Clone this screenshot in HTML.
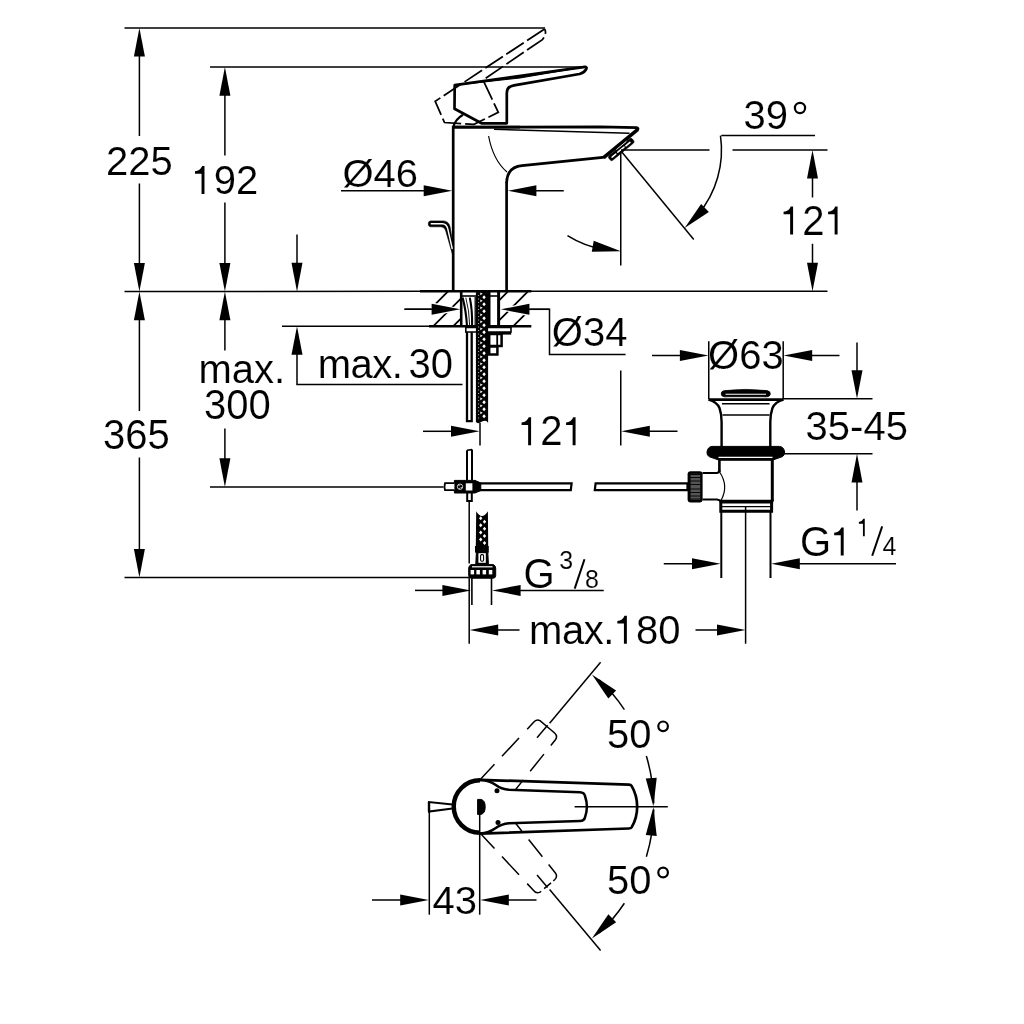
<!DOCTYPE html>
<html><head><meta charset="utf-8"><title>Dimension drawing</title>
<style>html,body{margin:0;padding:0;background:#fff}svg{display:block;font-family:"Liberation Sans",sans-serif}</style>
</head><body>
<svg width="1024" height="1024" viewBox="0 0 1024 1024" stroke="#000" fill="#000" stroke-linecap="butt">
<rect width="1024" height="1024" fill="#fff" stroke="none"/>
<g stroke="#000">
<line x1="124.5" y1="28" x2="545" y2="28" stroke-width="1.5" />
<line x1="210" y1="67.05" x2="586" y2="67.05" stroke-width="1.5" />
<path d="M124.5,291.6 L430,291.3 L827.5,291.25" stroke-width="1.5" fill="none" />
<line x1="210" y1="486.9" x2="443.5" y2="486.9" stroke-width="1.5" />
<line x1="124.5" y1="577.5" x2="469" y2="577.5" stroke-width="1.5" />
<line x1="139.4" y1="50" x2="139.4" y2="136" stroke-width="1.5" />
<line x1="139.4" y1="183.5" x2="139.4" y2="270" stroke-width="1.5" />
<polygon points="139.40,28.00 144.90,56.60 133.90,56.60" fill="#000" stroke="none"/>
<polygon points="139.40,291.60 133.90,263.00 144.90,263.00" fill="#000" stroke="none"/>
<line x1="139.4" y1="312" x2="139.4" y2="411" stroke-width="1.5" />
<line x1="139.4" y1="457.5" x2="139.4" y2="555" stroke-width="1.5" />
<polygon points="139.40,291.60 144.90,320.20 133.90,320.20" fill="#000" stroke="none"/>
<polygon points="139.40,577.50 133.90,548.90 144.90,548.90" fill="#000" stroke="none"/>
<line x1="224.9" y1="88" x2="224.9" y2="155.5" stroke-width="1.5" />
<line x1="224.9" y1="202.5" x2="224.9" y2="270" stroke-width="1.5" />
<polygon points="224.90,67.05 230.40,95.65 219.40,95.65" fill="#000" stroke="none"/>
<polygon points="224.90,291.60 219.40,263.00 230.40,263.00" fill="#000" stroke="none"/>
<line x1="224.9" y1="312" x2="224.9" y2="350.5" stroke-width="1.5" />
<line x1="224.9" y1="428.5" x2="224.9" y2="465" stroke-width="1.5" />
<polygon points="224.90,291.60 230.40,320.20 219.40,320.20" fill="#000" stroke="none"/>
<polygon points="224.90,486.90 219.40,458.30 230.40,458.30" fill="#000" stroke="none"/>
<line x1="297" y1="234.5" x2="297" y2="270" stroke-width="1.5" />
<polygon points="297.00,291.45 291.50,262.85 302.50,262.85" fill="#000" stroke="none"/>
<line x1="282" y1="326.25" x2="462" y2="326.25" stroke-width="1.5" />
<polygon points="297.00,326.25 302.50,354.85 291.50,354.85" fill="#000" stroke="none"/>
<path d="M297,348 V384.5 H462.5" stroke-width="1.5" fill="none" />
<line x1="341" y1="190.75" x2="430" y2="190.75" stroke-width="1.5" />
<polygon points="452.30,190.75 423.70,196.25 423.70,185.25" fill="#000" stroke="none"/>
<polygon points="507.80,190.75 536.40,185.25 536.40,196.25" fill="#000" stroke="none"/>
<line x1="530" y1="190.75" x2="563.75" y2="190.75" stroke-width="1.5" />
<line x1="404.5" y1="309.3" x2="440" y2="309.3" stroke-width="1.5" />
<polygon points="460.30,309.30 431.70,314.80 431.70,303.80" fill="#000" stroke="none"/>
<polygon points="500.80,309.30 529.40,303.80 529.40,314.80" fill="#000" stroke="none"/>
<path d="M520,309.3 H549.5 V354.5 H625.6" stroke-width="1.5" fill="none" />
<path d="M453.2,290.5 V127.2 H520" stroke-width="2.7" fill="none" />
<line x1="506.6" y1="290.5" x2="506.6" y2="182" stroke-width="2.7" />
<path d="M453.2,127.2 L600,126.8 L636.3,127.6 Q639.2,128 637.2,130.4" stroke-width="2.7" fill="none" />
<path d="M494,129.3 L629.5,133.3" stroke-width="1.5" fill="none" />
<line x1="637.6" y1="129.6" x2="603.6" y2="157.6" stroke-width="3.6" />
<path d="M606,156.6 Q603.5,157.4 598,157.8 L522,165.6 Q507,167 506.6,183" stroke-width="2.7" fill="none" />
<g transform="translate(620.6,148.3) rotate(-39.6)"><rect x="-15.4" y="-1.6" width="30.4" height="5.8" rx="2" fill="#000" stroke-width="0.6"/><path d="M-12.2,1.4 H-7.4 M-4.6,1.2 H3.4 M5.6,1.4 H11" stroke="#fff" stroke-width="1.5" stroke-linecap="round"/><path d="M-4,-1.7 H9" stroke="#fff" stroke-width="0.8"/></g>
<path d="M488.6,136 Q493,160 507,172" stroke-width="1.2" fill="none" />
<path d="M453.4,127 Q455,119.5 463,114.8" stroke-width="2.2" fill="none" />
<path d="M454.7,85.2 L585,66.8 Q587.5,67.2 586,69.5 Q584,72.8 579.5,74 L514,85.3 Q506.8,86.5 506.8,93 V123.3 H481.5 L454.5,108.8 Z" stroke-width="2.7" fill="none" stroke-linejoin="round"/>
<path d="M454.7,85.2 L585,66.8 L520,78 Z" stroke-width="1.0" fill="#000" />
<path d="M544.6,28.9 L435.2,101.3 L444.5,122.5 L474,124.3 L498.3,112.3 L483,80 L542.4,39.6 Q547.2,33.5 544.6,28.9" stroke-width="1.75" fill="none" stroke-dasharray="21 4"/>
<path d="M430.6,220.9 H443.2 Q448.6,221 450,226.5 L453.2,246 V257 L446.2,232.5 Q445,227 441,226.8 H430.6 Q428.3,226.6 428.3,223.8 Q428.3,221 430.6,220.9 Z" stroke-width="0.6" fill="#000" />
<path d="M431.2,223.8 H442.4 Q446.6,224 447.8,229 L452.2,248.5" stroke-width="1.4" fill="none" stroke="#fff" stroke-linecap="round"/>
<line x1="420" y1="291.3" x2="531.3" y2="291.3" stroke-width="2.5" />
<line x1="429" y1="326.3" x2="531.3" y2="326.3" stroke-width="2.5" />
<clipPath id="hl"><rect x="433" y="292" width="28" height="34"/></clipPath>
<clipPath id="hr"><rect x="499" y="292" width="29.5" height="34"/></clipPath>
<path d="M399.4,340 L459.4,280 M419.4,340 L479.4,280 M439.4,340 L499.4,280 M459.4,340 L519.4,280 M479.4,340 L539.4,280 M499.4,340 L559.4,280 " stroke-width="1.8" fill="none" clip-path="url(#hl)"/>
<path d="M399.4,340 L459.4,280 M419.4,340 L479.4,280 M439.4,340 L499.4,280 M459.4,340 L519.4,280 M479.4,340 L539.4,280 M499.4,340 L559.4,280 " stroke-width="1.8" fill="none" clip-path="url(#hr)"/>
<polygon points="461,309.3 432,303 432,315.6" fill="#fff" stroke="#fff" stroke-width="1.4"/>
<polygon points="500,309.3 529,303 529,315.6" fill="#fff" stroke="#fff" stroke-width="1.4"/>
<polygon points="460.30,309.30 431.70,314.80 431.70,303.80" fill="#000" stroke="none"/>
<polygon points="500.80,309.30 529.40,303.80 529.40,314.80" fill="#000" stroke="none"/>
<line x1="404.5" y1="309.3" x2="440" y2="309.3" stroke-width="1.5" />
<line x1="520" y1="309.3" x2="549.5" y2="309.3" stroke-width="1.5" />
<line x1="461.2" y1="292" x2="461.2" y2="326" stroke-width="2.6" />
<line x1="498.6" y1="292" x2="498.6" y2="326" stroke-width="3.0" />
<path d="M462,296 H478.5" stroke-width="1.6" fill="none" />
<path d="M490,296 H497.5" stroke-width="1.6" fill="none" />
<path d="M462.6,297.6 Q466,310 467,326" stroke-width="2.1" fill="none" />
<path d="M465.8,297.6 Q469.3,310 469.7,326" stroke-width="0.9" fill="none" />
<path d="M469.8,297.6 Q472.4,310 472.1,326" stroke-width="2.1" fill="none" />
<line x1="475.2" y1="297" x2="475.2" y2="326" stroke-width="1.3" />
<line x1="489.2" y1="292" x2="489.2" y2="326" stroke-width="2.6" />
<path d="M465.8,327.4 H511 V332 H465.8 Z" stroke-width="1.6" fill="#fff" />
<path d="M480,333.3 H511.2" stroke-width="2.6" fill="none" />
<path d="M489.2,334 H501.6 V346 H489.2 Z" stroke-width="2.5" fill="#fff" />
<line x1="497.2" y1="334" x2="497.2" y2="346" stroke-width="1.8" />
<path d="M489.2,346.4 H497.4 V354.4 H489.2 Z" stroke-width="2.5" fill="#fff" />
<path d="M467,332 V421.2 H471.7 V332" stroke-width="2.3" fill="none" />
<path d="M475.9,292 H488.1 V423 Q486.5,419.5 482,421.6 Q478,424.5 475.9,422 Z" stroke-width="0" fill="#000" stroke="none"/>
<path d="M480.30,292.45 L480.30,295.15 L482.70,293.80 Z M482.30,297.30 L484.10,295.35 L485.80,297.30 L484.10,299.25 Z M480.30,299.45 L480.30,302.15 L482.70,300.80 Z M482.30,304.30 L484.10,302.35 L485.80,304.30 L484.10,306.25 Z M480.30,306.45 L480.30,309.15 L482.70,307.80 Z M482.30,311.30 L484.10,309.35 L485.80,311.30 L484.10,313.25 Z M480.30,313.45 L480.30,316.15 L482.70,314.80 Z M482.30,318.30 L484.10,316.35 L485.80,318.30 L484.10,320.25 Z M480.30,320.45 L480.30,323.15 L482.70,321.80 Z M482.30,325.30 L484.10,323.35 L485.80,325.30 L484.10,327.25 Z M480.30,327.45 L480.30,330.15 L482.70,328.80 Z M482.30,332.30 L484.10,330.35 L485.80,332.30 L484.10,334.25 Z M480.30,334.45 L480.30,337.15 L482.70,335.80 Z M482.30,339.30 L484.10,337.35 L485.80,339.30 L484.10,341.25 Z M480.30,341.45 L480.30,344.15 L482.70,342.80 Z M482.30,346.30 L484.10,344.35 L485.80,346.30 L484.10,348.25 Z M480.30,348.45 L480.30,351.15 L482.70,349.80 Z M482.30,353.30 L484.10,351.35 L485.80,353.30 L484.10,355.25 Z M480.30,355.45 L480.30,358.15 L482.70,356.80 Z M482.30,360.30 L484.10,358.35 L485.80,360.30 L484.10,362.25 Z M480.30,362.45 L480.30,365.15 L482.70,363.80 Z M482.30,367.30 L484.10,365.35 L485.80,367.30 L484.10,369.25 Z M480.30,369.45 L480.30,372.15 L482.70,370.80 Z M482.30,374.30 L484.10,372.35 L485.80,374.30 L484.10,376.25 Z M480.30,376.45 L480.30,379.15 L482.70,377.80 Z M482.30,381.30 L484.10,379.35 L485.80,381.30 L484.10,383.25 Z M480.30,383.45 L480.30,386.15 L482.70,384.80 Z M482.30,388.30 L484.10,386.35 L485.80,388.30 L484.10,390.25 Z M480.30,390.45 L480.30,393.15 L482.70,391.80 Z M482.30,395.30 L484.10,393.35 L485.80,395.30 L484.10,397.25 Z M480.30,397.45 L480.30,400.15 L482.70,398.80 Z M482.30,402.30 L484.10,400.35 L485.80,402.30 L484.10,404.25 Z M480.30,404.45 L480.30,407.15 L482.70,405.80 Z M482.30,409.30 L484.10,407.35 L485.80,409.30 L484.10,411.25 Z M480.30,411.45 L480.30,414.15 L482.70,412.80 Z M482.30,416.30 L484.10,414.35 L485.80,416.30 L484.10,418.25 Z " stroke-width="0" fill="#fff" stroke="none"/>
<path d="M478.00,295.55 h1.1 M478.00,299.05 h1.1 M478.00,302.55 h1.1 M478.00,306.05 h1.1 M478.00,309.55 h1.1 M478.00,313.05 h1.1 M478.00,316.55 h1.1 M478.00,320.05 h1.1 M478.00,323.55 h1.1 M478.00,327.05 h1.1 M478.00,330.55 h1.1 M478.00,334.05 h1.1 M478.00,337.55 h1.1 M478.00,341.05 h1.1 M478.00,344.55 h1.1 M478.00,348.05 h1.1 M478.00,351.55 h1.1 M478.00,355.05 h1.1 M478.00,358.55 h1.1 M478.00,362.05 h1.1 M478.00,365.55 h1.1 M478.00,369.05 h1.1 M478.00,372.55 h1.1 M478.00,376.05 h1.1 M478.00,379.55 h1.1 M478.00,383.05 h1.1 M478.00,386.55 h1.1 M478.00,390.05 h1.1 M478.00,393.55 h1.1 M478.00,397.05 h1.1 M478.00,400.55 h1.1 M478.00,404.05 h1.1 M478.00,407.55 h1.1 M478.00,411.05 h1.1 M478.00,414.55 h1.1 M478.00,418.05 h1.1 " stroke-width="1.1" fill="none" stroke="#aaa"/>
<line x1="480" y1="423" x2="480" y2="445.5" stroke-width="1.5" />
<line x1="423" y1="431.3" x2="455" y2="431.3" stroke-width="1.5" />
<polygon points="479.60,431.30 451.00,436.80 451.00,425.80" fill="#000" stroke="none"/>
<line x1="620.75" y1="370.5" x2="620.75" y2="445.5" stroke-width="1.5" />
<polygon points="621.20,431.30 649.80,425.80 649.80,436.80" fill="#000" stroke="none"/>
<line x1="645" y1="431.3" x2="677.5" y2="431.3" stroke-width="1.5" />
<path d="M467,450.3 V480 M472,449.6 V480" stroke-width="2.0" fill="none" />
<line x1="467" y1="450.3" x2="472" y2="449.6" stroke-width="1.6" />
<path d="M467.2,493 V501 H471.8 V493" stroke-width="2.0" fill="none" />
<line x1="469.2" y1="501.5" x2="469.2" y2="563.5" stroke-width="1.5" />
<path d="M478,483.4 H571.6 L570.8,490.2 H478 Z" stroke-width="2.2" fill="#fff" />
<path d="M595.6,483.4 H687.5 V490.2 H594.8 Z" stroke-width="2.2" fill="#fff" />
<path d="M454.4,480.4 H475 L480.8,483 V490.5 L475,493 H454.4 Z" stroke-width="1" fill="#000" />
<rect x="465.8" y="483.3" width="6.6" height="7.2" fill="#fff" stroke="none"/>
<circle cx="460" cy="486.7" r="2.7" fill="none" stroke="#fff" stroke-width="0.8"/>
<circle cx="459" cy="485.6" r="0.6" fill="#fff" stroke="none"/><circle cx="461.2" cy="487.6" r="0.6" fill="#fff" stroke="none"/><circle cx="459.4" cy="488.2" r="0.5" fill="#fff" stroke="none"/>
<path d="M454.4,483.2 H445 Q444,486.7 445,490.2 H454.4" stroke-width="1.8" fill="#fff" />
<path d="M476.2,511.2 Q479,516 482,516 Q485,516 487.9,511.2 L488.2,546.5 H475.8 Z" stroke-width="0" fill="#000" stroke="none"/>
<path d="M479.00,518.20 L480.70,516.20 L482.40,518.20 L480.70,520.20 Z M482.80,521.75 L484.50,519.75 L486.20,521.75 L484.50,523.75 Z M479.00,525.30 L480.70,523.30 L482.40,525.30 L480.70,527.30 Z M482.80,528.85 L484.50,526.85 L486.20,528.85 L484.50,530.85 Z M479.00,532.40 L480.70,530.40 L482.40,532.40 L480.70,534.40 Z M482.80,535.95 L484.50,533.95 L486.20,535.95 L484.50,537.95 Z M479.00,539.50 L480.70,537.50 L482.40,539.50 L480.70,541.50 Z M482.80,543.05 L484.50,541.05 L486.20,543.05 L484.50,545.05 Z " stroke-width="0" fill="#fff" stroke="none"/>
<rect x="475" y="546" width="13.8" height="6.6" fill="#000" stroke="none"/>
<path d="M476.4,552 L475.8,564 H488.4 L487.8,552 Z" stroke-width="1" fill="#000" />
<rect x="478.4" y="553.2" width="7.4" height="9.6" fill="#fff" stroke="none"/>
<rect x="480.6" y="554.6" width="3" height="6.6" rx="1.2" fill="#fff" stroke-width="1.1"/>
<path d="M471,564.6 H493.4 Q495.7,566 495.7,568 V575.5 Q495.7,578.2 493,578.2 H471.4 Q468.7,578.2 468.7,575.5 V568 Q468.7,566 471,564.6 Z" stroke-width="1" fill="#000" />
<rect x="470.6" y="570" width="3.5" height="4.4" fill="#fff" stroke="none"/>
<rect x="476.4" y="570" width="3.5" height="4.4" fill="#fff" stroke="none"/>
<rect x="482.6" y="570" width="3.5" height="4.4" fill="#fff" stroke="none"/>
<rect x="488.8" y="570" width="3.5" height="4.4" fill="#fff" stroke="none"/>
<rect x="472" y="566.2" width="20.5" height="1.2" fill="#fff" stroke="none"/>
<line x1="471.9" y1="578" x2="471.9" y2="605" stroke-width="1.6" />
<line x1="491.5" y1="578" x2="491.5" y2="605" stroke-width="1.6" />
<line x1="415" y1="590.4" x2="445" y2="590.4" stroke-width="1.5" />
<polygon points="471.00,590.40 442.40,595.90 442.40,584.90" fill="#000" stroke="none"/>
<polygon points="492.00,590.40 520.60,584.90 520.60,595.90" fill="#000" stroke="none"/>
<line x1="518" y1="590.4" x2="603.75" y2="590.4" stroke-width="1.5" />
<line x1="574.7" y1="588.6" x2="584.5" y2="559.2" stroke-width="2.0" />
<line x1="469.2" y1="577.5" x2="469.2" y2="643.75" stroke-width="1.5" />
<polygon points="469.60,630.00 498.20,624.50 498.20,635.50" fill="#000" stroke="none"/>
<line x1="495" y1="630" x2="519.5" y2="630" stroke-width="1.5" />
<line x1="695.5" y1="630" x2="720" y2="630" stroke-width="1.5" />
<polygon points="745.60,630.00 717.00,635.50 717.00,624.50" fill="#000" stroke="none"/>
<line x1="745.6" y1="506" x2="745.6" y2="643.75" stroke-width="1.5" />
<line x1="620.75" y1="151" x2="620.75" y2="265.5" stroke-width="1.5" />
<line x1="621" y1="150" x2="709.5" y2="150" stroke-width="1.5" />
<line x1="732.5" y1="150" x2="827.5" y2="150" stroke-width="1.5" />
<line x1="621" y1="151" x2="693.75" y2="239.5" stroke-width="1.5" />
<path d="M720.47,135.67 A100.5,100.5 0 0 1 697.99,214.60" stroke-width="1.5" fill="none" />
<polygon points="684.60,228.00 701.14,204.03 708.85,211.88" fill="#000" stroke="none"/>
<line x1="721.3" y1="135.6" x2="815" y2="135.6" stroke-width="1.5" />
<circle cx="800" cy="108" r="5.1" fill="none" stroke-width="2.2"/>
<path d="M567.48,235.65 A101,101 0 0 0 603.46,249.47" stroke-width="1.5" fill="none" />
<polygon points="620.90,251.20 591.78,251.65 593.69,240.82" fill="#000" stroke="none"/>
<line x1="812.5" y1="171" x2="812.5" y2="197.5" stroke-width="1.5" />
<line x1="812.5" y1="243.75" x2="812.5" y2="270" stroke-width="1.5" />
<polygon points="812.50,150.00 818.00,178.60 807.00,178.60" fill="#000" stroke="none"/>
<polygon points="812.50,291.25 807.00,262.65 818.00,262.65" fill="#000" stroke="none"/>
<line x1="708.75" y1="341.25" x2="708.75" y2="399" stroke-width="1.5" />
<line x1="783.2" y1="341.25" x2="783.2" y2="399" stroke-width="1.5" />
<line x1="652" y1="355.5" x2="686" y2="355.5" stroke-width="1.5" />
<polygon points="708.50,355.50 679.90,361.00 679.90,350.00" fill="#000" stroke="none"/>
<polygon points="783.60,355.50 812.20,350.00 812.20,361.00" fill="#000" stroke="none"/>
<line x1="806" y1="355.5" x2="839.5" y2="355.5" stroke-width="1.5" />
<line x1="783" y1="398.8" x2="872.5" y2="398.8" stroke-width="1.5" />
<line x1="785" y1="453.8" x2="872.5" y2="453.8" stroke-width="1.5" />
<line x1="857" y1="342.5" x2="857" y2="376" stroke-width="1.5" />
<polygon points="857.00,398.80 851.50,370.20 862.50,370.20" fill="#000" stroke="none"/>
<polygon points="857.00,453.80 862.50,482.40 851.50,482.40" fill="#000" stroke="none"/>
<line x1="857" y1="476" x2="857" y2="510.5" stroke-width="1.5" />
<path d="M724.5,390.6 Q745.7,388.2 767,390.6 Q770.5,391.3 770.3,394 Q770,396.6 767,396.8 H724.5 Q721.5,396.6 721.2,394 Q721,391.3 724.5,390.6 Z" stroke-width="0.8" fill="#000" />
<path d="M725.5,394.3 H766" stroke-width="1.1" fill="none" stroke="#fff"/>
<path d="M727,398.1 H764.5" stroke-width="0.9" fill="none" stroke="#fff"/>
<path d="M708.6,399.6 H783.4" stroke-width="2.6" fill="none" />
<path d="M708.6,399.6 Q717,402 719.5,408 Q721.6,414 721.6,422 V447" stroke-width="2.4" fill="none" />
<path d="M783.4,399.6 Q775,402 772.5,408 Q770.3,414 770.3,422 V447" stroke-width="2.4" fill="none" />
<line x1="722" y1="403.8" x2="769.6" y2="403.8" stroke-width="1.6" />
<line x1="722.5" y1="415" x2="769.5" y2="415" stroke-width="1.6" />
<path d="M712,446.4 H779.5 Q783.8,446.8 784.6,452 Q785,455.6 782,456.8 L773.5,459.8 H718 L709.5,456.8 Q706.5,455.6 707,452 Q707.7,446.8 712,446.4 Z" stroke-width="1" fill="#000" />
<line x1="718.5" y1="457.3" x2="772.5" y2="457.3" stroke-width="1.3" stroke="#fff"/>
<path d="M719.4,459 V472" stroke-width="2.6" fill="none" />
<line x1="772.3" y1="459" x2="772.3" y2="501" stroke-width="3.0" />
<line x1="719" y1="460" x2="772" y2="460" stroke-width="1.4" />
<path d="M702.5,473 H716.5 Q719.4,473 719.4,470" stroke-width="2.2" fill="none" />
<path d="M702.5,499.5 H717 Q719.5,499.8 720.5,501" stroke-width="2.2" fill="none" />
<path d="M719.6,472 Q729,486 721,500.5" stroke-width="1.2" fill="none" />
<line x1="719.5" y1="501" x2="773.5" y2="501" stroke-width="2.6" />
<rect x="687.6" y="471.2" width="15" height="31.2" rx="3" fill="#000" stroke="none"/>
<rect x="690.6" y="473.8" width="9.6" height="26" fill="#555" stroke="none"/>
<line x1="690.4" y1="474.5" x2="700.4" y2="474.5" stroke-width="0.9" />
<line x1="690.4" y1="477.5" x2="700.4" y2="477.5" stroke-width="0.9" />
<line x1="690.4" y1="481" x2="700.4" y2="481" stroke-width="0.9" />
<line x1="690.4" y1="484.5" x2="700.4" y2="484.5" stroke-width="0.9" />
<line x1="690.4" y1="489" x2="700.4" y2="489" stroke-width="0.9" />
<line x1="690.4" y1="492.5" x2="700.4" y2="492.5" stroke-width="0.9" />
<line x1="690.4" y1="496" x2="700.4" y2="496" stroke-width="0.9" />
<line x1="690.4" y1="499" x2="700.4" y2="499" stroke-width="0.9" />
<path d="M720.8,502 H771.6 V511.3 H720.8 Z" stroke-width="3.0" fill="none" />
<path d="M722,506.6 H770.4" stroke-width="1.2" fill="none" />
<line x1="721.3" y1="512" x2="721.3" y2="578" stroke-width="2.0" />
<line x1="770.5" y1="512" x2="770.5" y2="578" stroke-width="2.0" />
<line x1="663.75" y1="563.75" x2="698" y2="563.75" stroke-width="1.5" />
<polygon points="720.60,563.75 692.00,569.25 692.00,558.25" fill="#000" stroke="none"/>
<polygon points="771.20,563.75 799.80,558.25 799.80,569.25" fill="#000" stroke="none"/>
<line x1="794" y1="563.75" x2="896" y2="563.75" stroke-width="1.5" />
<line x1="872.2" y1="555.8" x2="882.2" y2="526.4" stroke-width="2.0" />
<path d="M480,779.6 A27,27 0 1 0 480,833.6" stroke-width="3.0" fill="none" />
<path d="M480,781 A25.6,25.6 0 1 0 480,832.2" stroke-width="3.2" fill="none" />
<path d="M480,779.8 L628.8,784.7 Q630.9,784.8 631.6,785.9 A41.4,41.4 0 0 1 631.6,827.4 Q630.9,828.5 628.8,828.5 L480,833.6" stroke-width="2.7" fill="none" />
<path d="M480,780 Q489,780.2 495,784.5 Q501.5,789.3 509,789.8 L580,792.3 Q584.2,792.5 585,796 Q588.8,806.7 585,817.4 Q584.2,820.8 580,821 L509,823.3 Q501.5,823.8 495,828.6 Q489,833 480,833.4" stroke-width="2.5" fill="none" />
<circle cx="497" cy="790.8" r="2.5" fill="#000" stroke="none"/>
<circle cx="498" cy="822.4" r="2.5" fill="#000" stroke="none"/>
<path d="M477.6,799.4 H481 Q485.2,800.4 485.2,806.8 Q485.2,813.4 481,814.4 H477.6 Z" stroke-width="1" fill="#000" />
<line x1="479.7" y1="814" x2="479.7" y2="914.7" stroke-width="1.5" />
<line x1="574.6" y1="806.8" x2="667.8" y2="806.8" stroke-width="1.5" />
<path d="M452.5,804.4 L429,802 V811.6 L452.5,808.6" stroke-width="2.0" fill="none" />
<line x1="429" y1="802" x2="429" y2="811.6" stroke-width="2.4" />
<line x1="429.3" y1="808" x2="429.3" y2="914.7" stroke-width="1.5" />
<path d="M 480.5 779.3 L 533.6 722.3 Q 536.3 718.8 540 720.6 L 554.6 733 Q 558 736.2 555.4 739.8 L 515.6 789.5" stroke-width="1.5" fill="none" stroke-dasharray="20.5 11 25 12 50.5 11 22 11 12"/>
<path d="M 480.50 833.50 L 533.60 890.50 Q 536.30 894.00 540.00 892.20 L 554.60 879.80 Q 558.00 876.60 555.40 873.00 L 515.60 823.30" stroke-width="1.5" fill="none" stroke-dasharray="20.5 11 25 12 18 4 9 3 20 10 22 11 12"/>
<path d="M 537 737.8 L 547.6 725.2" stroke-width="1.5" fill="none" />
<path d="M 549.6 723.2 L 600.6 662.2" stroke-width="1.5" fill="none" />
<path d="M 537.00 875.00 L 547.60 887.60" stroke-width="1.5" fill="none" />
<path d="M 549.60 889.60 L 600.60 950.60" stroke-width="1.5" fill="none" />
<path d="M624.38,709.58 A174,174 0 0 0 599.15,679.78" stroke-width="1.5" fill="none" />
<path d="M646.35,756.03 A174,174 0 0 1 653.77,803.36" stroke-width="1.5" fill="none" />
<path d="M653.77,809.44 A174,174 0 0 1 646.35,856.77" stroke-width="1.5" fill="none" />
<path d="M599.15,933.02 A174,174 0 0 0 624.38,903.22" stroke-width="1.5" fill="none" />
<polygon points="591.90,674.40 616.10,690.61 608.36,698.43" fill="#000" stroke="none"/>
<polygon points="653.40,806.60 645.77,778.49 656.74,777.67" fill="#000" stroke="none"/>
<polygon points="653.40,807.00 656.74,835.93 645.77,835.11" fill="#000" stroke="none"/>
<polygon points="591.90,938.40 608.36,914.37 616.10,922.19" fill="#000" stroke="none"/>
<circle cx="663.1" cy="726.3" r="4.8" fill="none" stroke-width="2.2"/>
<circle cx="663.1" cy="872.5" r="4.8" fill="none" stroke-width="2.2"/>
<line x1="372" y1="900" x2="405" y2="900" stroke-width="1.5" />
<polygon points="428.80,900.00 400.20,905.50 400.20,894.50" fill="#000" stroke="none"/>
<polygon points="480.20,900.00 508.80,894.50 508.80,905.50" fill="#000" stroke="none"/>
<line x1="503" y1="900" x2="536.5" y2="900" stroke-width="1.5" />
</g>
<g style="will-change:transform" fill="#000" stroke="#fff" stroke-width="0.12">
<text transform="translate(105.90,174.6) scale(1,1.02)" font-size="40">225</text>
<text transform="translate(103.00,449.1) scale(1,1.04)" font-size="40">365</text>
<path d="M204.48,194.00 H201.54 V173.80 H194.98 V171.20 Q200.28,170.60 202.16,165.90 H204.48 Z" fill="#000" stroke="none"/>
<text transform="translate(213.65,194.0) scale(1,1.025)" font-size="40">92</text>
<text x="198.50" y="382.6" font-size="40">max.</text>
<text transform="translate(204.00,418.8) scale(1,1.04)" font-size="40">300</text>
<text x="317.80" y="378.4" font-size="40" letter-spacing="-0.5">max.</text>
<text transform="translate(408.40,378.2) scale(1,1.04)" font-size="40">30</text>
<text transform="translate(342.50,186.7) scale(1,0.99)" font-size="40">Ø46</text>
<text x="551.80" y="345.9" font-size="40">Ø34</text>
<path d="M531.08,445.30 H528.14 V425.10 H521.58 V422.50 Q526.88,421.90 528.76,417.20 H531.08 Z" fill="#000" stroke="none"/>
<text transform="translate(540.25,445.3) scale(1,1.04)" font-size="40">2</text>
<path d="M575.57,445.30 H572.63 V425.10 H566.07 V422.50 Q571.37,421.90 573.25,417.20 H575.57 Z" fill="#000" stroke="none"/>
<text transform="translate(523.50,588.2) scale(1,1.04)" font-size="40">G</text>
<text transform="translate(559.30,568.6) scale(1,1.04)" font-size="25">3</text>
<text transform="translate(585.00,588) scale(1,1.04)" font-size="25">8</text>
<text x="529.00" y="643.8" font-size="40" letter-spacing="-0.4">max.</text>
<path d="M626.86,643.80 H623.92 V623.60 H617.36 V621.00 Q622.66,620.40 624.54,615.70 H626.86 Z" fill="#000" stroke="none"/>
<text x="636.03" y="643.8" font-size="40">80</text>
<text transform="translate(743.50,129.3) scale(1,1.03)" font-size="40">39</text>
<path d="M793.08,234.50 H790.14 V214.30 H783.58 V211.70 Q788.88,211.10 790.76,206.40 H793.08 Z" fill="#000" stroke="none"/>
<text transform="translate(802.25,234.5) scale(1,1.04)" font-size="40">2</text>
<path d="M837.57,234.50 H834.63 V214.30 H828.07 V211.70 Q833.37,211.10 835.25,206.40 H837.57 Z" fill="#000" stroke="none"/>
<text transform="translate(708.10,369.5) scale(1,1.015)" font-size="40">Ø63</text>
<text transform="translate(805.60,439.9) scale(1,1.03)" font-size="40">35-45</text>
<text transform="translate(800.00,555.5) scale(1,1.04)" font-size="40">G</text>
<path d="M843.68,555.50 H840.74 V535.30 H834.18 V532.70 Q839.48,532.10 841.36,527.40 H843.68 Z" fill="#000" stroke="none"/>
<path d="M864.77,536.30 H862.94 V523.67 H858.84 V522.05 Q862.15,521.67 863.33,518.74 H864.77 Z" fill="#000" stroke="none"/>
<text transform="translate(882.60,555) scale(1,1.04)" font-size="25">4</text>
<text transform="translate(607.00,747.8) scale(1,1.025)" font-size="40">50</text>
<text transform="translate(607.00,894) scale(1,1.025)" font-size="40">50</text>
<text transform="translate(432.60,913.9) scale(1,0.985)" font-size="40">43</text>
</g>
</svg>
</body></html>
